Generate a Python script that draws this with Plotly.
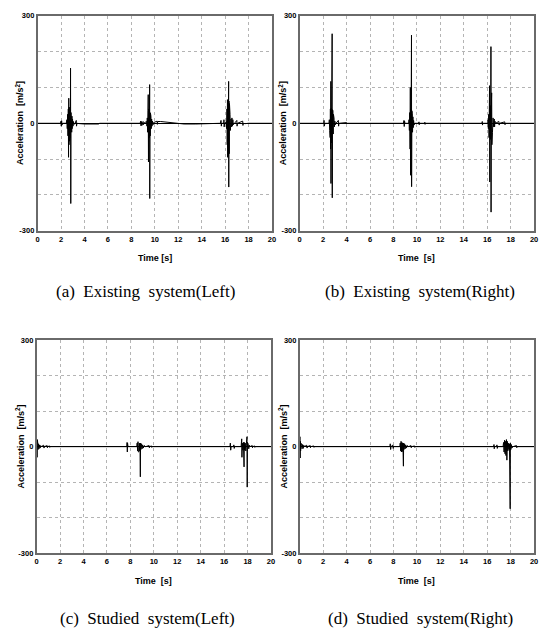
import plotly.graph_objects as go

# ---- data: (time [s], acceleration [m/s^2]) ----
existing_left = [
    (0, 0), (1.95, 0), (2.0, 6), (2.02, -8), (2.05, 7), (2.08, -5), (2.12, 0), (2.3, 0),
    (2.45, 0), (2.5, 10), (2.53, -15), (2.56, 25), (2.59, -35), (2.62, 40), (2.64, -95), (2.66, 70),
    (2.68, -60), (2.70, 45), (2.72, -50), (2.74, 38), (2.76, -45), (2.78, 35), (2.80, -40),
    (2.81, 154), (2.83, -224), (2.85, 30), (2.87, -35), (2.89, 28), (2.91, -25), (2.93, 20),
    (2.95, -15), (2.98, 12), (3.02, -8), (3.06, 5), (3.1, -3), (3.2, 0), (3.3, 8), (3.32, -8),
    (3.34, 6), (3.36, 0), (3.6, -1), (4.0, -2), (5.2, -2), (5.3, 0),
    (8.75, 0), (8.8, 6), (8.82, -7), (8.85, 5), (8.9, -6), (8.93, 0), (9.0, 5), (9.02, -4), (9.05, 0),
    (9.3, 5), (9.33, -8), (9.36, 15), (9.39, -25), (9.42, 35), (9.44, 80), (9.46, -108), (9.48, 40),
    (9.5, -45), (9.52, 35), (9.54, -40), (9.56, 108), (9.57, -210), (9.59, 30), (9.61, -35),
    (9.63, 28), (9.65, -25), (9.67, 20), (9.7, -15), (9.73, 12), (9.76, -8), (9.8, 6), (9.85, -4),
    (9.9, 2), (10.0, 3), (10.2, 6), (10.22, -3), (10.25, 5), (10.5, 5), (11.0, 3), (11.5, 1),
    (12.0, 0), (12.5, -2), (13.5, -2), (14.5, -2), (15.0, 0),
    (15.6, 0), (15.65, 8), (15.68, -8), (15.7, 0), (15.88, 0), (15.9, 10), (15.92, -10), (15.95, 0),
    (16.1, 5), (16.13, -15), (16.16, 40), (16.18, -60), (16.2, 66), (16.22, -95), (16.24, 65),
    (16.26, -90), (16.28, 60), (16.30, 117), (16.31, -178), (16.33, 62), (16.35, -85), (16.37, 55),
    (16.39, -40), (16.42, 25), (16.45, -20), (16.5, 12), (16.55, -10), (16.58, 15), (16.62, -8),
    (16.66, 10), (16.7, -4), (16.8, 0), (17.0, 8), (17.02, -8), (17.05, 0), (17.5, 6), (17.52, -6),
    (17.55, 0), (17.7, -1), (18.0, 0), (20, 0),
]

existing_right = [
    (0, 0), (2.05, 0), (2.08, 8), (2.1, -8), (2.12, 7), (2.15, 0), (2.5, 0), (2.53, 10), (2.56, -20),
    (2.58, 30), (2.6, -40), (2.62, 40), (2.64, -72), (2.66, 117), (2.67, -168), (2.69, 42),
    (2.71, -55), (2.73, 40), (2.75, -45), (2.77, 250), (2.78, -208), (2.80, 38), (2.82, -40),
    (2.84, 35), (2.86, -30), (2.88, 25), (2.9, -20), (2.93, 15), (2.96, -10), (3.0, 6), (3.05, -4),
    (3.1, 0), (3.3, 8), (3.32, -8), (3.35, 0), (4.0, 2), (4.02, -2), (4.05, 0),
    (8.85, 0), (8.9, 8), (8.92, -9), (8.95, 6), (8.98, 0), (9.3, 0), (9.33, 10), (9.36, -20),
    (9.39, 30), (9.42, -72), (9.44, 100), (9.46, -145), (9.48, 40), (9.5, -45), (9.52, 38),
    (9.54, 246), (9.55, -177), (9.57, 35), (9.59, -35), (9.61, 28), (9.63, -25), (9.66, 18),
    (9.69, -12), (9.72, 8), (9.76, -5), (9.8, 0), (10.15, 0), (10.18, 4), (10.2, -4), (10.23, 0),
    (10.65, 0), (10.68, 3), (10.7, -3), (10.72, 0),
    (15.55, 0), (15.58, 5), (15.6, -5), (15.62, 0), (16.05, 0), (16.08, 10), (16.1, -15),
    (16.13, 25), (16.16, -40), (16.2, 105), (16.22, -164), (16.24, 50), (16.26, -50), (16.28, 45),
    (16.3, -45), (16.32, 214), (16.33, -248), (16.35, 45), (16.38, 85), (16.4, -60), (16.42, 40),
    (16.45, -25), (16.5, 15), (16.55, -10), (16.6, 12), (16.63, -10), (16.66, 6), (16.7, 0),
    (17.0, 5), (17.02, -5), (17.05, 0), (17.5, 4), (17.52, -4), (17.55, 0), (20, 0),
]

studied_left = [
    (0, 0), (0.02, 15), (0.04, -30), (0.06, 20), (0.08, -12), (0.1, 10), (0.13, -8), (0.16, 8),
    (0.2, -6), (0.25, 5), (0.3, -4), (0.35, 3), (0.4, 0), (0.6, 4), (0.63, -4), (0.66, 0),
    (0.9, 3), (0.92, -3), (0.95, 0), (1.1, 2), (1.12, -2), (1.15, 0), (1.3, 0),
    (7.7, 0), (7.72, 12), (7.74, -15), (7.76, 10), (7.8, 0), (8.0, 0), (8.55, 0), (8.58, 10),
    (8.62, -12), (8.65, 14), (8.68, -15), (8.71, 12), (8.74, -14), (8.77, 10), (8.8, -12),
    (8.82, 8), (8.85, -85), (8.87, 10), (8.9, -8), (8.95, 8), (9.0, -6), (9.05, 5), (9.1, -4),
    (9.2, 3), (9.3, 0), (9.6, 3), (9.62, -3), (9.65, 0), (9.8, 2), (9.82, -2), (9.85, 0),
    (16.5, 0), (16.53, 10), (16.56, -10), (16.6, 0), (16.8, 0), (16.83, 5), (16.86, -5), (16.9, 0),
    (17.45, 0), (17.5, 22), (17.52, -30), (17.55, 10), (17.6, -10), (17.65, 12), (17.7, -57),
    (17.72, 12), (17.75, -10), (17.8, 10), (17.85, -12), (17.9, 10), (17.95, 28), (17.97, -114),
    (17.99, 12), (18.02, -10), (18.05, 8), (18.1, -6), (18.15, 4), (18.2, 0), (18.4, 3),
    (18.42, -3), (18.45, 0), (18.6, 2), (18.62, -2), (18.65, 0), (20, 0),
]

studied_right = [
    (0, 0), (0.02, 28), (0.04, -32), (0.06, 15), (0.08, -12), (0.1, 10), (0.13, -8), (0.16, 8),
    (0.2, -6), (0.25, 6), (0.3, -5), (0.35, 4), (0.4, 0), (0.6, 4), (0.63, -4), (0.66, 0),
    (0.9, 3), (0.92, -3), (0.95, 0), (1.2, 2), (1.22, -2), (1.25, 0), (1.5, 0),
    (7.7, 0), (7.73, 8), (7.76, -8), (7.8, 0), (7.95, 5), (7.98, -5), (8.0, 0), (8.55, 0),
    (8.58, 10), (8.62, -12), (8.65, 15), (8.68, -15), (8.72, 12), (8.75, -14), (8.78, 10),
    (8.82, -12), (8.85, -55), (8.87, 10), (8.9, -8), (8.95, 8), (9.0, -6), (9.05, 5), (9.1, -4),
    (9.2, 3), (9.3, 0), (9.5, 3), (9.52, -3), (9.55, 0), (9.8, 2), (9.82, -2), (9.85, 0), (10.2, 0),
    (16.55, 0), (16.58, 6), (16.6, -6), (16.63, 0), (16.8, 0), (16.83, 5), (16.86, -5), (16.9, 0),
    (17.35, 0), (17.4, 12), (17.44, -15), (17.48, 18), (17.52, -20), (17.56, 15), (17.6, -25),
    (17.64, 20), (17.68, -38), (17.72, 15), (17.76, -12), (17.8, 10), (17.85, -8), (17.9, 8),
    (17.96, -175), (17.98, 10), (18.02, -8), (18.06, 6), (18.1, -4), (18.2, 0), (18.5, 3),
    (18.52, -3), (18.55, 0), (20, 0),
]

captions = ["(a)  Existing  system(Left)", "(b)  Existing  system(Right)",
            "(c)  Studied  system(Left)", "(d)  Studied  system(Right)"]
x_titles = ["Time [s]", "Time  [s]", "Time  [s]", "Time  [s]"]
y_title = "Acceleration  [m/s<sup>2</sup>]"
x_ticks = list(range(0, 21, 2))
y_ticks = [-300, -200, -100, 0, 100, 200, 300]
y_ticktext = ["-300", " ", " ", "0", " ", " ", "300"]

series = [existing_left, existing_right, studied_left, studied_right]

# ---- layout geometry (pixels) ----
W, H = 545, 637
panels_px = [  # x0, x1, ytop, ybottom
    (36, 273, 12, 230),
    (301, 538, 12, 230),
    (35, 272, 341, 557),
    (301, 538, 341, 557),
]
xtitle_y = [258, 258, 585, 585]
ytitle_x = [18, 284, 18, 284]
caption_y = [292, 292, 623, 623]
caption_x = [145, 423, 147, 423]

serif = "Liberation Serif"

fig = go.Figure()
tickfont = dict(family="Arial", size=7.5, color="#000", weight="bold")
for i, data in enumerate(series):
    t = [p[0] for p in data]
    a = [p[1] for p in data]
    sfx = "" if i == 0 else str(i + 1)
    fig.add_trace(go.Scatter(x=t, y=a, mode="lines", line=dict(color="#000", width=1),
                             xaxis="x" + sfx, yaxis="y" + sfx, showlegend=False,
                             hoverinfo="skip"))
    x0, x1, yt, yb = panels_px[i]
    fig.layout["xaxis" + sfx] = dict(
        domain=[x0 / W, x1 / W], anchor="y" + sfx, range=[0, 20],
        tickvals=x_ticks, ticktext=[str(v) for v in x_ticks], tickfont=tickfont,
        showgrid=True, gridcolor="#b4b4b4", griddash="dot", gridwidth=1,
        showline=True, linecolor="#6a6a6a", linewidth=1.5, mirror=True,
        ticks="", zeroline=False, fixedrange=True,
    )
    fig.layout["yaxis" + sfx] = dict(
        domain=[1 - yb / H, 1 - yt / H], anchor="x" + sfx, range=[-300, 300],
        tickvals=y_ticks, ticktext=y_ticktext, tickfont=tickfont,
        showgrid=True, gridcolor="#b4b4b4", griddash="dot", gridwidth=1,
        showline=True, linecolor="#6a6a6a", linewidth=1.5, mirror=True,
        ticks="", zeroline=True, zerolinecolor="#000", zerolinewidth=1, fixedrange=True,
    )
    fig.add_annotation(x=(x0 + x1) / 2 / W, y=1 - xtitle_y[i] / H, xref="paper", yref="paper",
                       text=x_titles[i], showarrow=False, xanchor="center", yanchor="middle",
                       font=dict(family="Arial", size=9, color="#000", weight="bold"))
    fig.add_annotation(x=ytitle_x[i] / W, y=1 - (yt + yb) / 2 / H, xref="paper", yref="paper",
                       text=y_title, showarrow=False, textangle=-90, xanchor="center",
                       yanchor="middle",
                       font=dict(family="Arial", size=9, color="#000", weight="bold"))
    fig.add_annotation(x=caption_x[i] / W, y=1 - caption_y[i] / H, xref="paper", yref="paper",
                       text=captions[i], showarrow=False, xanchor="center", yanchor="middle",
                       font=dict(family=serif, size=17, color="#000"))

fig.update_layout(width=W, height=H, margin=dict(l=0, r=0, t=0, b=0),
                  paper_bgcolor="white", plot_bgcolor="white")
fig.write_html("out.html")
